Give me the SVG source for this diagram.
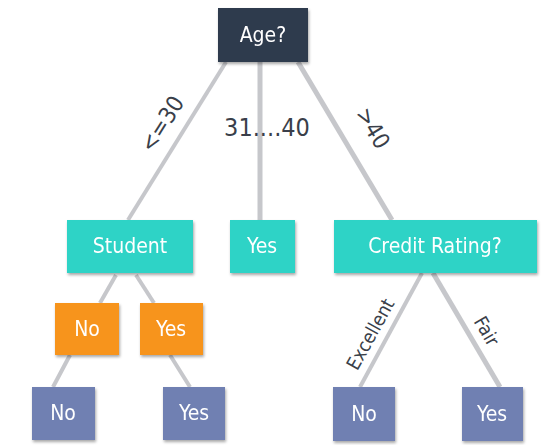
<svg xmlns="http://www.w3.org/2000/svg" width="555" height="445" viewBox="0 0 555 445">
<defs>
<filter id="sh" x="-10%" y="-10%" width="125%" height="130%">
<feGaussianBlur in="SourceAlpha" stdDeviation="1.5"/>
<feOffset dx="1" dy="2" result="b"/>
<feComponentTransfer><feFuncA type="linear" slope="0.35"/></feComponentTransfer>
<feMerge><feMergeNode/><feMergeNode in="SourceGraphic"/></feMerge>
</filter>
</defs>
<style>
.t{font-family:"DejaVu Sans Condensed","Liberation Sans Narrow","Liberation Sans",sans-serif;font-stretch:condensed;}
.nt{fill:#ffffff;font-size:21px;text-anchor:middle;dominant-baseline:central;}
.lb{fill:#3a3f4a;font-size:23px;text-anchor:middle;dominant-baseline:central;}
.sm{font-size:19px;}
.big{font-size:25px;}
.e{stroke:#c6c7cb;stroke-width:5;stroke-linecap:butt;fill:none;}
.e2{stroke:#c6c7cb;stroke-width:4;fill:none;}
.dark{fill:#2f3a4e;}
.teal{fill:#2dd3c6;}
.org{fill:#f7941f;}
.blu{fill:#6f80b2;}
</style>
<rect width="555" height="445" fill="#ffffff"/>
<g id="connectors">
<line class="e2" x1="226" y1="62" x2="128" y2="220"/>
<line class="e" x1="260" y1="62" x2="260" y2="220"/>
<line class="e" x1="298" y1="62" x2="392" y2="220" stroke-width="7"/>
<line class="e2" x1="116" y1="275" x2="100" y2="303"/>
<line class="e2" x1="136" y1="275" x2="154" y2="303"/>
<line class="e2" x1="70" y1="355" x2="53" y2="387"/>
<line class="e2" x1="170" y1="355" x2="190" y2="387"/>
<line class="e2" x1="422" y1="273" x2="360" y2="387"/>
<line class="e" x1="433" y1="273" x2="500" y2="387"/>
<text class="t lb" transform="translate(162,124) rotate(-58)">&lt;=30</text>
<text class="t lb big" x="267" y="127">31....40</text>
<text class="t lb" transform="translate(373,128) rotate(59)">&gt;40</text>
<text class="t lb sm" transform="translate(370,334) rotate(-61)">Excellent</text>
<text class="t lb sm" transform="translate(487,331) rotate(60)">Fair</text>
</g>
<g id="age" filter="url(#sh)"><rect class="dark" x="218" y="8" width="90" height="54"/><text class="t nt" x="263" y="35">Age?</text></g>
<g id="student" filter="url(#sh)"><rect class="teal" x="67" y="220" width="126" height="53"/><text class="t nt" x="130" y="246">Student</text></g>
<g id="yes_mid" filter="url(#sh)"><rect class="teal" x="230" y="220" width="65" height="53"/><text class="t nt" x="262" y="246">Yes</text></g>
<g id="credit" filter="url(#sh)"><rect class="teal" x="334" y="220" width="203" height="53"/><text class="t nt" x="435" y="246">Credit Rating?</text></g>
<g id="no_org" filter="url(#sh)"><rect class="org" x="55" y="303" width="64" height="52"/><text class="t nt" x="87" y="329">No</text></g>
<g id="yes_org" filter="url(#sh)"><rect class="org" x="140" y="303" width="63" height="52"/><text class="t nt" x="171" y="329">Yes</text></g>
<g id="no_leaf1" filter="url(#sh)"><rect class="blu" x="32" y="387" width="63" height="53"/><text class="t nt" x="63" y="413">No</text></g>
<g id="yes_leaf1" filter="url(#sh)"><rect class="blu" x="163" y="387" width="62" height="53"/><text class="t nt" x="194" y="413">Yes</text></g>
<g id="no_leaf2" filter="url(#sh)"><rect class="blu" x="333" y="387" width="62" height="54"/><text class="t nt" x="364" y="414">No</text></g>
<g id="yes_leaf2" filter="url(#sh)"><rect class="blu" x="462" y="387" width="61" height="54"/><text class="t nt" x="492" y="414">Yes</text></g>
</svg>
